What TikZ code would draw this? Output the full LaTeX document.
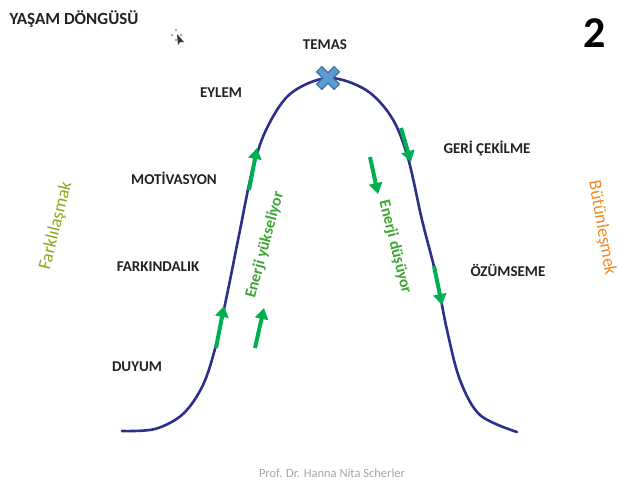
\documentclass[tikz,border=0pt]{standalone}
\usepackage{fontspec}
\setmainfont{Carlito}
\usetikzlibrary{arrows.meta,calc}
\definecolor{curveblue}{HTML}{2C2F8C}
\definecolor{arrgreen}{HTML}{00B050}
\definecolor{txtgreen}{HTML}{3FA535}
\definecolor{olivey}{HTML}{94A31B}
\definecolor{orangey}{HTML}{F08A24}
\definecolor{crossfill}{HTML}{5B9BD5}
\definecolor{crossline}{HTML}{41719C}
\definecolor{lbl}{HTML}{222222}
\tikzset{
  stage/.style={text=lbl, font=\fontsize{15}{18}\selectfont\bfseries, inner sep=0pt},
  side/.style={font=\fontsize{18}{20}\selectfont, inner sep=0pt},
  energy/.style={text=txtgreen, font=\fontsize{16}{19}\selectfont\bfseries, inner sep=0pt},
  garrow/.style={draw=arrgreen, line width=4pt, -{Triangle[width=13pt,length=11pt]}},
}
\begin{document}
\begin{tikzpicture}[x=1pt,y=-1pt]
\useasboundingbox[fill=white] (0,0) rectangle (619,485);

% title and number
\node[text=lbl, font=\fontsize{17}{20}\selectfont\bfseries, inner sep=0pt] (title) at (74,19) {YAŞAM DÖNGÜSÜ};
\node[text=black, font=\fontsize{44}{50}\selectfont\bfseries, inner sep=0pt] (num) at (595,33) {2};

% small cursor icon
\fill[gray!70] (176,30) circle (1.3pt) (172,35) circle (1.3pt) (181,35) circle (1.3pt) (176,40) circle (1.3pt);
\fill[black!80] (177,34) -- (184,42) -- (180,42) -- (178,45) -- cycle;

% curve
\draw[curveblue, line width=2.6pt, line cap=round] plot[smooth, tension=0.55] coordinates {
 (122,431) (155,429) (183,414) (203,385) (216,345) (228,290) (240,230) (252,172)
 (266,130) (290,94) (328,78) (366,90) (392,118) (408,158) (422,220) (436,275)
 (447,330) (460,380) (480,415) (517,432)};

% cross at peak
\coordinate (peak) at (328,78);
\foreach \a in {45,135}{
  \draw[crossline, line width=8.5pt] ($(peak)+(\a:13)$) -- ($(peak)+(\a+180:13)$);
}
\foreach \a in {45,135}{
  \draw[crossfill, line width=6pt] ($(peak)+(\a:12)$) -- ($(peak)+(\a+180:12)$);
}

% stage labels
\node[stage] (temas) at (325,45) {TEMAS};
\node[stage] (eylem) at (221,93) {EYLEM};
\node[stage] (motiv) at (174,178) {MOTİVASYON};
\node[stage] (fark) at (158,267) {FARKINDALIK};
\node[stage] (duyum) at (137,367) {DUYUM};
\node[stage] (geri) at (487,148) {GERİ ÇEKİLME};
\node[stage] (ozum) at (508,270) {ÖZÜMSEME};

% side labels
\node[side, text=olivey, rotate=76] (farklilasmak) at (56,226) {Farklılaşmak};
\node[side, text=orangey, rotate=-80] (butun) at (602,228) {Bütünleşmek};

% energy labels
\node[energy, rotate=75] (up) at (265,245) {Enerji yükseliyor};
\node[energy, rotate=-76] (down) at (395,247) {Enerji düşüyor};

% green arrows
\coordinate (a1s) at (216,348); \coordinate (a1e) at (224,306);
\coordinate (a2s) at (249,190); \coordinate (a2e) at (257,148);
\coordinate (a3s) at (401,128); \coordinate (a3e) at (411,162);
\coordinate (a4s) at (434,266); \coordinate (a4e) at (442,305);
\coordinate (a5s) at (255,348); \coordinate (a5e) at (264,308);
\coordinate (a6s) at (370,157); \coordinate (a6e) at (378,194);
\draw[garrow] (a1s) -- (a1e);
\draw[garrow] (a2s) -- (a2e);
\draw[garrow] (a3s) -- (a3e);
\draw[garrow] (a4s) -- (a4e);
\draw[garrow] (a5s) -- (a5e);
\draw[garrow] (a6s) -- (a6e);

% footer
\node[text=gray!70, font=\fontsize{12.5}{14}\selectfont, inner sep=0pt] (footer) at (332,473) {Prof. Dr. Hanna Nita Scherler};
\end{tikzpicture}
\end{document}
